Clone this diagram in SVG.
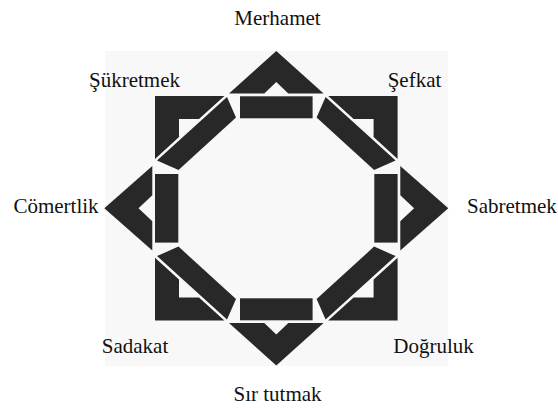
<svg xmlns="http://www.w3.org/2000/svg" width="558" height="409" viewBox="0 0 558 409">
<style>
.s{fill:#282828}
.t{font-family:"Liberation Serif","Times New Roman",serif;font-size:21px;fill:#111}
</style>
<rect width="558" height="409" fill="#fff"/>
<rect id="panel" x="105" y="51" width="343" height="315" fill="#f8f8f8"/>
<g id="tips">
<polygon class="s" points="229,93.5 276.3,51 323.6,93.5 288.3,93.5 276.3,82 264.3,93.5"/>
<polygon class="s" points="229,323.1 276.3,365.6 323.6,323.1 288.3,323.1 276.3,334.6 264.3,323.1"/>
<polygon class="s" points="152.3,166 104.3,208.3 152.3,250.6 152.3,221.3 138.5,208.3 152.3,195.3"/>
<polygon class="s" points="400.3,166 448.3,208.3 400.3,250.6 400.3,221.3 414.1,208.3 400.3,195.3"/>
</g>
<g id="corners">
<polygon class="s" points="155,96 224.4,96 199,119 179,119 179,137.1 155,158.9"/>
<polygon class="s" points="397.6,96 328.2,96 353.6,119 373.6,119 373.6,137.1 397.6,158.9"/>
<polygon class="s" points="155,320.6 224.4,320.6 199,297.6 179,297.6 179,279.5 155,257.7"/>
<polygon class="s" points="397.6,320.6 328.2,320.6 353.6,297.6 373.6,297.6 373.6,279.5 397.6,257.7"/>
</g>
<g id="ring">
<rect class="s" x="240" y="96.3" width="72.6" height="22"/>
<rect class="s" x="240" y="298.3" width="72.6" height="22"/>
<rect class="s" x="155" y="174" width="23.3" height="68.6"/>
<rect class="s" x="374.3" y="174" width="23.3" height="68.6"/>
<polygon class="s" points="227,97 236,117.5 178.5,170 157,160.5"/>
<polygon class="s" points="325.6,97 316.6,117.5 374.1,170 395.6,160.5"/>
<polygon class="s" points="227,319.6 236,299.1 178.5,246.6 157,256.1"/>
<polygon class="s" points="325.6,319.6 316.6,299.1 374.1,246.6 395.6,256.1"/>
</g>
<g id="labels" class="t">
<text x="277.5" y="25" text-anchor="middle">Merhamet</text>
<text x="134.5" y="87" text-anchor="middle">Şükretmek</text>
<text x="414.5" y="87" text-anchor="middle">Şefkat</text>
<text x="56" y="213.3" text-anchor="middle">Cömertlik</text>
<text x="467" y="213.3">Sabretmek</text>
<text x="135" y="353.3" text-anchor="middle">Sadakat</text>
<text x="433.5" y="353.3" text-anchor="middle">Doğruluk</text>
<text x="277.5" y="401" text-anchor="middle">Sır tutmak</text>
</g>
</svg>
